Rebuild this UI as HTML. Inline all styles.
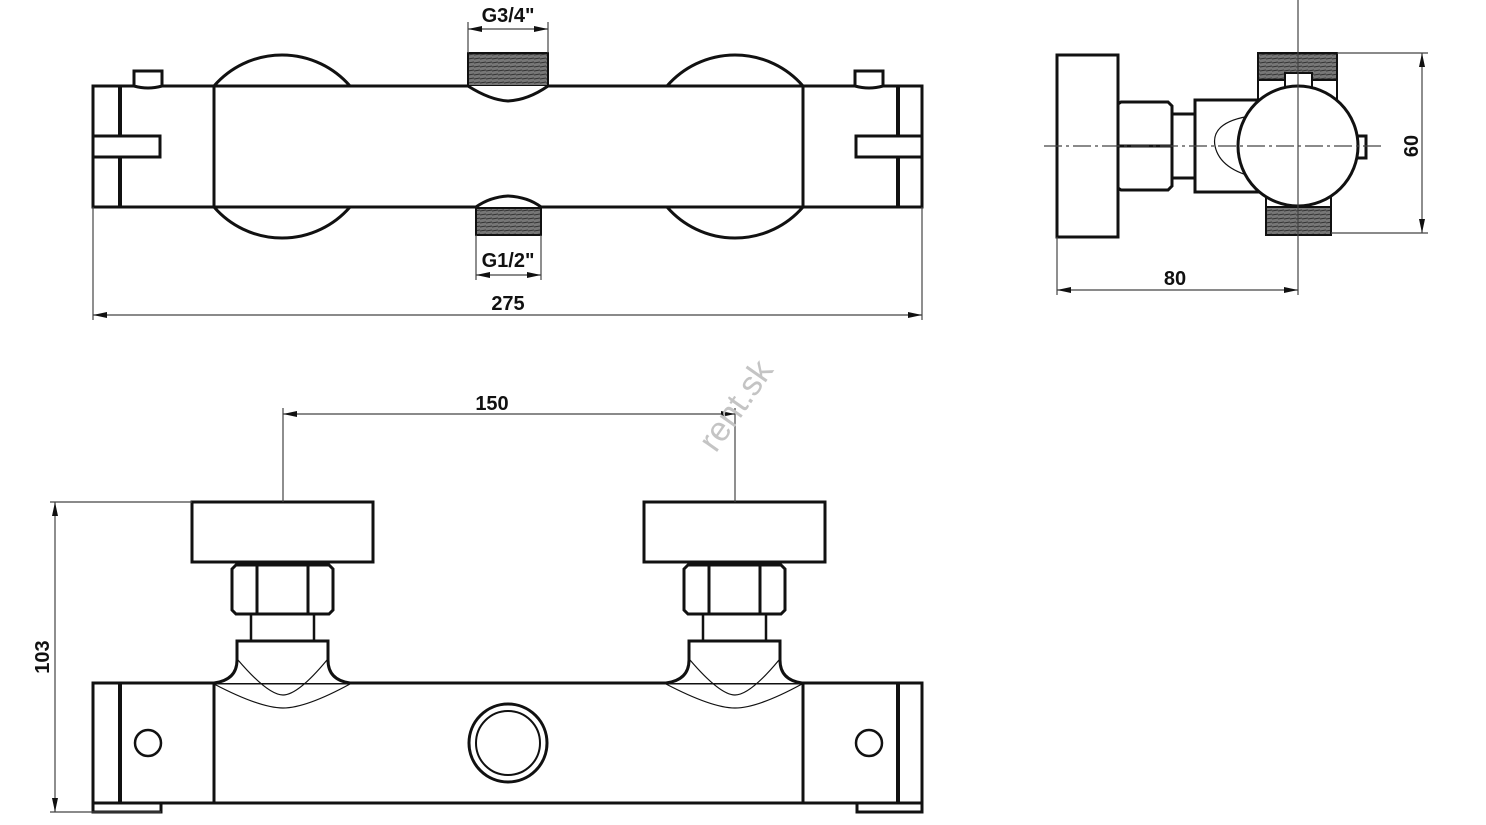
<!DOCTYPE html>
<html><head><meta charset="utf-8"><style>
html,body{margin:0;padding:0;background:#fff;}
svg{display:block}
text{font-family:"Liberation Sans Narrow","Liberation Sans",sans-serif;font-weight:bold;font-size:20px;fill:#111}
</style></head><body>
<svg width="1486" height="825" viewBox="0 0 1486 825" xmlns="http://www.w3.org/2000/svg">
<defs>
<marker id="a" markerWidth="14" markerHeight="8" refX="14" refY="4" orient="auto-start-reverse" markerUnits="userSpaceOnUse"><path d="M0,1 L14,4 L0,7 Z" fill="#111"/></marker>
<pattern id="th" width="6" height="4" patternUnits="userSpaceOnUse"><rect width="6" height="4" fill="#777"/><line x1="0" y1="3" x2="6" y2="2" stroke="#333" stroke-width="1"/></pattern>
</defs>
<g fill="none" stroke="#111" stroke-width="3">
<!-- TOP VIEW -->
<path d="M214,86 A90,90 0 0 1 350,86"/>
<path d="M214,207 A90,90 0 0 0 350,207"/>
<path d="M667,86 A90,90 0 0 1 803,86"/>
<path d="M667,207 A90,90 0 0 0 803,207"/>
<rect x="93" y="86" width="829" height="121" fill="#fff"/>
<line x1="120" y1="86" x2="120" y2="207" stroke-width="4"/>
<line x1="898" y1="86" x2="898" y2="207" stroke-width="4"/>
<line x1="214" y1="86" x2="214" y2="207"/>
<line x1="803" y1="86" x2="803" y2="207"/>
<rect x="93" y="136" width="67" height="21" fill="#fff"/>
<rect x="856" y="136" width="66" height="21" fill="#fff"/>
<path d="M134,86 V71 H162 V86 Q148,90 134,86 Z" fill="#fff"/>
<path d="M855,86 V71 H883 V86 Q869,90 855,86 Z" fill="#fff"/>
<rect x="468" y="53" width="80" height="33" fill="url(#th)" stroke-width="2"/>
<path d="M468,86 Q490,100 508,101 Q528,100 548,86" fill="#fff"/>
<rect x="476" y="208" width="65" height="27" fill="url(#th)" stroke-width="2"/>
<path d="M476,207 Q490,197 508,196 Q528,197 541,207" fill="#fff"/>
<!-- RIGHT VIEW -->
<rect x="1057" y="55" width="61" height="182"/>
<path d="M1118,104 L1121,102 H1168 L1172,106 V186 L1168,190 H1121 L1118,188 Z"/>
<line x1="1118" y1="146" x2="1172" y2="146"/>
<rect x="1172" y="114" width="23" height="64"/>
<path d="M1195,100 H1258 V192 H1195 Z"/>
<path d="M1258,115 Q1210,120 1215,146 Q1220,170 1258,178" stroke-width="1.2"/>
<rect x="1258" y="53" width="79" height="27" fill="url(#th)" stroke-width="2"/>
<rect x="1258" y="80" width="79" height="40" fill="#fff" stroke-width="2"/>
<rect x="1285" y="73" width="27" height="20" fill="#fff" stroke-width="2"/>
<rect x="1266" y="207" width="65" height="28" fill="url(#th)" stroke-width="2"/>
<rect x="1266" y="195" width="65" height="12" fill="#fff" stroke-width="2"/>
<rect x="1352" y="136" width="14" height="22" fill="#fff"/>
<circle cx="1298" cy="146" r="60" fill="#fff"/>
<!-- BOTTOM VIEW -->
<rect x="93" y="683" width="829" height="120"/>
<line x1="120" y1="683" x2="120" y2="803" stroke-width="4"/>
<line x1="898" y1="683" x2="898" y2="803" stroke-width="4"/>
<line x1="214" y1="683" x2="214" y2="803"/>
<line x1="803" y1="683" x2="803" y2="803"/>
<rect x="93" y="803" width="68" height="9"/>
<rect x="857" y="803" width="65" height="9"/>
<circle cx="148" cy="743" r="13" stroke-width="2.5"/>
<circle cx="869" cy="743" r="13" stroke-width="2.5"/>
<circle cx="508" cy="743" r="39" stroke-width="3"/>
<circle cx="508" cy="743" r="32" stroke-width="2"/>
<g id="h">
<rect x="192" y="502" width="181" height="60" fill="#fff"/>
<path d="M232,569 L236,565 H329 L333,569 V610 L329,614 H236 L232,610 Z"/>
<line x1="257" y1="565" x2="257" y2="614"/><line x1="308" y1="565" x2="308" y2="614"/>
<rect x="251" y="614" width="63" height="27" stroke-width="2.5"/>
<path d="M214,683 Q237,680 237,660 V641 H328 V660 Q328,680 350,683" fill="#fff"/>
<path d="M214,684 Q260,708 283,708 Q306,708 350,684" stroke-width="1.2"/>
<path d="M238,660 Q268,695 283,695 Q298,695 327,660" stroke-width="1.2"/>
</g>
<use href="#h" transform="translate(452,0)"/>
</g>
<!-- dimension lines -->
<g stroke="#444" stroke-width="1.2" fill="none">
<line x1="468" y1="22" x2="468" y2="53"/><line x1="548" y1="22" x2="548" y2="53"/>
<line x1="468" y1="29" x2="548" y2="29" marker-start="url(#a)" marker-end="url(#a)"/>
<line x1="476" y1="235" x2="476" y2="280"/><line x1="541" y1="235" x2="541" y2="280"/>
<line x1="476" y1="275" x2="541" y2="275" marker-start="url(#a)" marker-end="url(#a)"/>
<line x1="93" y1="207" x2="93" y2="320"/><line x1="922" y1="207" x2="922" y2="320"/>
<line x1="93" y1="315" x2="922" y2="315" marker-start="url(#a)" marker-end="url(#a)"/>
<line x1="1298" y1="0" x2="1298" y2="295"/>
<line x1="1044" y1="146" x2="1383" y2="146" stroke-dasharray="18,4,3,4"/>
<line x1="1057" y1="237" x2="1057" y2="295"/>
<line x1="1057" y1="290" x2="1298" y2="290" marker-start="url(#a)" marker-end="url(#a)"/>
<line x1="1337" y1="53" x2="1428" y2="53"/><line x1="1331" y1="233" x2="1428" y2="233"/>
<line x1="1422" y1="53" x2="1422" y2="233" marker-start="url(#a)" marker-end="url(#a)"/>
<line x1="283" y1="408" x2="283" y2="502"/><line x1="735" y1="408" x2="735" y2="502"/>
<line x1="283" y1="414" x2="735" y2="414" marker-start="url(#a)" marker-end="url(#a)"/>
<line x1="50" y1="502" x2="192" y2="502"/><line x1="50" y1="812" x2="161" y2="812"/>
<line x1="55" y1="502" x2="55" y2="812" marker-start="url(#a)" marker-end="url(#a)"/>
</g>
<text x="508" y="22" text-anchor="middle">G3/4"</text>
<text x="508" y="267" text-anchor="middle">G1/2"</text>
<text x="508" y="310" text-anchor="middle">275</text>
<text x="1175" y="285" text-anchor="middle">80</text>
<text x="492" y="410" text-anchor="middle">150</text>
<text transform="translate(1418,146) rotate(-90)" text-anchor="middle">60</text>
<text transform="translate(49,657) rotate(-90)" text-anchor="middle">103</text>
<text transform="translate(745,412) rotate(-55)" text-anchor="middle" style="font-weight:normal;font-size:34px;fill:#c4c4c4;font-family:'Liberation Sans',sans-serif">rent.sk</text>
</svg>
</body></html>
